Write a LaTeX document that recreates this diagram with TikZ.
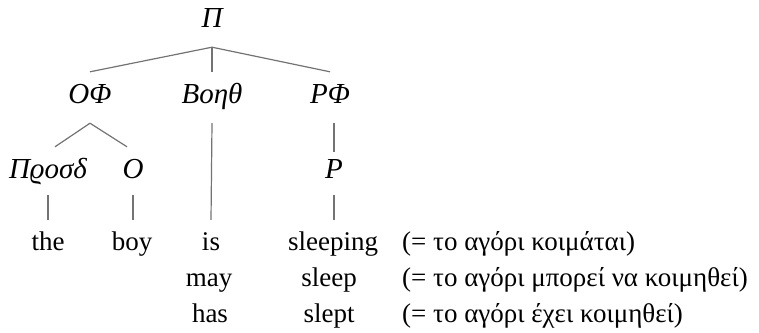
\documentclass[tikz,border=0pt]{standalone}
\usepackage{fontspec}
\setmainfont{Liberation Serif}
\usetikzlibrary{positioning}

\begin{document}
\begin{tikzpicture}[x=1pt, y=-1pt, node distance=36pt]
    \tikzstyle{cat} = [anchor=base, font=\fontsize{29}{34}\selectfont\itshape,
        text height=20pt, text depth=9pt, inner xsep=3pt, inner ysep=11pt]
    \tikzstyle{lowcat} = [cat, text depth=6pt]
    \tikzstyle{word} = [anchor=base, font=\fontsize{27}{32}\selectfont,
        text height=30pt, text depth=8pt, inner xsep=3pt, inner ysep=0pt]
    \tikzstyle{gloss} = [anchor=base west, font=\fontsize{27}{32}\selectfont, inner sep=0pt]
    \tikzstyle{branch} = [draw=black!55, line width=1.2pt]
    \useasboundingbox (0,0) rectangle (759,332);

    % categories
    \node (pi) [cat] at (212,27) {Π};
    \node (of) [cat] at (90,103) {ΟΦ};
    \node (boith) [cat] at (212,103) {Βοηθ};
    \node (rf) [cat] at (330,103) {ΡΦ};
    \node (prosd) [lowcat] at (48,178) {Πϱοσδ};
    \node (ous) [lowcat] at (133,178) {Ο};
    \node (rima) [lowcat] at (334,178) {Ρ};

    % words
    \node (the) [word] at (48,250) {the};
    \node (boy) [word] at (132,250) {boy};
    \node (is) [word] at (211,250) {is};
    \node (sleeping) [word] at (333,250) {sleeping};
    \node (may) [word, below=of is.base, anchor=base, xshift=-2pt] {may};
    \node (has) [word, below=of is.base, anchor=base, yshift=-36pt, xshift=-1pt] {has};
    \node (sleep) [word, below=of sleeping.base, anchor=base, xshift=-4pt] {sleep};
    \node (slept) [word, below=of sleep.base, anchor=base] {slept};

    % glosses
    \node (gl1) [gloss] at (402,250) {(= το αγόρι κοιμάται)};
    \node (gl2) [gloss] at (402,286) {(= το αγόρι μπορεί να κοιμηθεί)};
    \node (gl3) [gloss] at (402,322) {(= το αγόρι έχει κοιμηθεί)};

    \draw [branch] (pi.south) -- (of.north);
    \draw [branch] (pi.south) -- (boith.north);
    \draw [branch] (pi.south) -- (rf.north);
    \draw [branch] (of.south) -- ([xshift=7pt]prosd.north);
    \draw [branch] (of.south) -- ([xshift=-6pt]ous.north);
    \draw [branch] (boith.south) -- (is.north);
    \draw [branch] (rf.south -| rima.north) -- ([yshift=-5pt]rima.north);
    \draw [branch] (the.north |- prosd.south) -- (the.north);
    \draw [branch] (ous.south) -- (ous.south |- boy.north);
    \draw [branch] (rima.south) -- (rima.south |- sleeping.north);
\end{tikzpicture}
\end{document}
